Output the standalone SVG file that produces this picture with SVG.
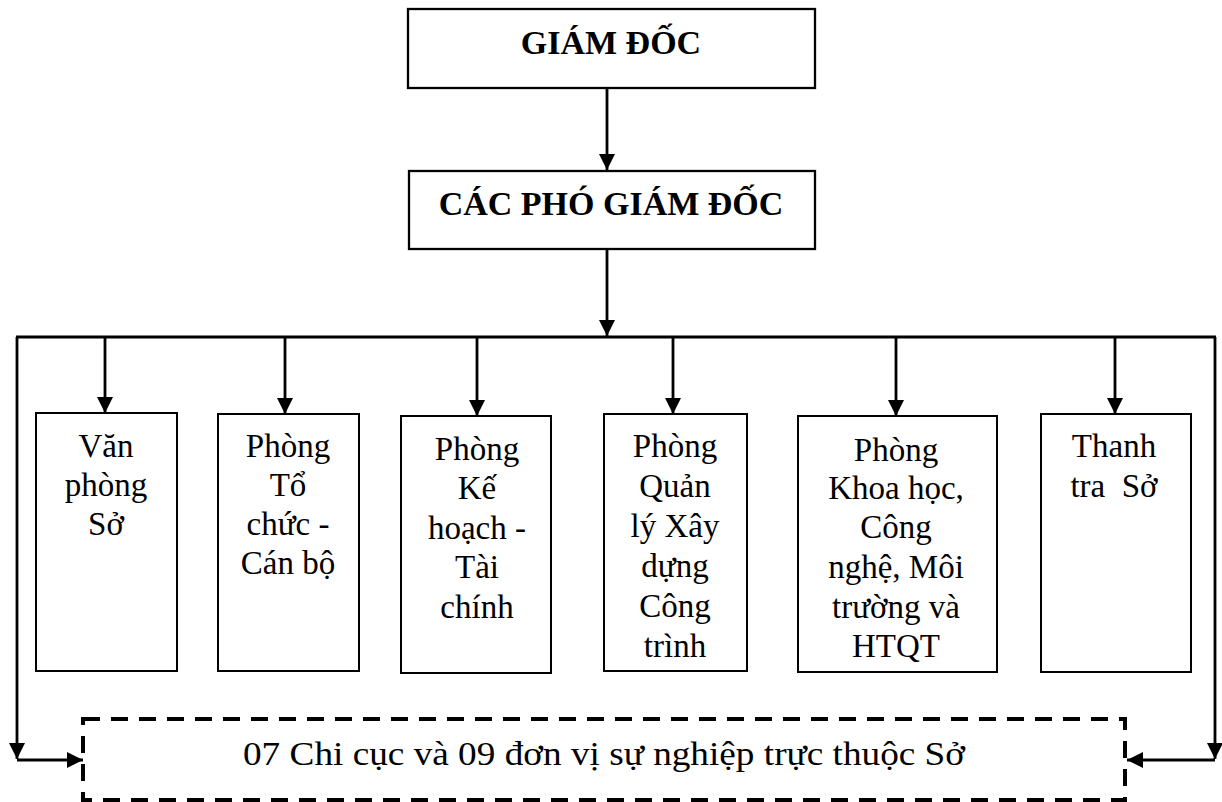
<svg xmlns="http://www.w3.org/2000/svg" width="1222" height="802" viewBox="0 0 1222 802">
<style>
.box{fill:#fff;stroke:#000;stroke-width:2}
.top{fill:#fff;stroke:#000;stroke-width:2.3}
.con{fill:none;stroke:#000;stroke-width:2.8}
.dash{fill:none;stroke:#000;stroke-width:4;stroke-dasharray:17 11}
text{font-family:'Liberation Serif','Times New Roman',serif;fill:#000;text-anchor:middle}
.t{font-size:33px;white-space:pre}
.b{font-size:34px;font-weight:bold}
</style>
<defs>
<marker id="ah" viewBox="0 0 16 16" refX="16" refY="8" markerWidth="16" markerHeight="16" markerUnits="userSpaceOnUse" orient="auto">
<path d="M0,0 L16,8 L0,16 Z" fill="#000"/>
</marker>
</defs>
<g id="connectors">
<line class="con" x1="607" y1="88" x2="607" y2="170" marker-end="url(#ah)"/>
<line class="con" x1="607" y1="249" x2="607" y2="336" marker-end="url(#ah)"/>
<line class="con" x1="16" y1="337" x2="1216" y2="337"/>
<line class="con" x1="105" y1="337" x2="105" y2="413" marker-end="url(#ah)"/>
<line class="con" x1="285" y1="337" x2="285" y2="414" marker-end="url(#ah)"/>
<line class="con" x1="477" y1="337" x2="477" y2="416" marker-end="url(#ah)"/>
<line class="con" x1="673" y1="337" x2="673" y2="414" marker-end="url(#ah)"/>
<line class="con" x1="896" y1="337" x2="896" y2="416" marker-end="url(#ah)"/>
<line class="con" x1="1115" y1="337" x2="1115" y2="414" marker-end="url(#ah)"/>
<line class="con" x1="17" y1="337" x2="17" y2="759" marker-end="url(#ah)"/>
<line class="con" x1="17" y1="760" x2="83" y2="760" marker-end="url(#ah)"/>
<line class="con" x1="1215" y1="337" x2="1215" y2="759" marker-end="url(#ah)"/>
<line class="con" x1="1215" y1="760" x2="1127" y2="760" marker-end="url(#ah)"/>
</g>
<g id="giam-doc">
<rect class="top" x="408" y="9" width="407" height="79"/>
<text class="b" x="611" y="54">GIÁM ĐỐC</text>
</g>
<g id="pho-giam-doc">
<rect class="top" x="409" y="171" width="406" height="78"/>
<text class="b" x="611" y="215">CÁC PHÓ GIÁM ĐỐC</text>
</g>
<g id="van-phong">
<rect class="box" x="36" y="413" width="141" height="258"/>
<text class="t" x="106" y="457">Văn</text>
<text class="t" x="106" y="496">phòng</text>
<text class="t" x="106" y="535">Sở</text>
</g>
<g id="to-chuc">
<rect class="box" x="218" y="414" width="141" height="257"/>
<text class="t" x="288" y="457">Phòng</text>
<text class="t" x="288" y="496">Tổ</text>
<text class="t" x="288" y="535">chức -</text>
<text class="t" x="288" y="574">Cán bộ</text>
</g>
<g id="ke-hoach">
<rect class="box" x="401" y="416" width="150" height="257"/>
<text class="t" x="477" y="460">Phòng</text>
<text class="t" x="477" y="499">Kế</text>
<text class="t" x="477" y="539">hoạch -</text>
<text class="t" x="477" y="578">Tài</text>
<text class="t" x="477" y="618">chính</text>
</g>
<g id="quan-ly">
<rect class="box" x="604" y="414" width="143" height="257"/>
<text class="t" x="675" y="457">Phòng</text>
<text class="t" x="675" y="497">Quản</text>
<text class="t" x="675" y="537">lý Xây</text>
<text class="t" x="675" y="577">dựng</text>
<text class="t" x="675" y="617">Công</text>
<text class="t" x="675" y="657">trình</text>
</g>
<g id="khoa-hoc">
<rect class="box" x="798" y="416" width="199" height="256"/>
<text class="t" x="896" y="461">Phòng</text>
<text class="t" x="896" y="499">Khoa học,</text>
<text class="t" x="896" y="538">Công</text>
<text class="t" x="896" y="578">nghệ, Môi</text>
<text class="t" x="896" y="618">trường và</text>
<text class="t" x="896" y="657">HTQT</text>
</g>
<g id="thanh-tra">
<rect class="box" x="1041" y="414" width="150" height="258"/>
<text class="t" x="1114" y="457">Thanh</text>
<text class="t" x="1114" y="497">tra  Sở</text>
</g>
<g id="chi-cuc">
<rect class="dash" x="83" y="719" width="1042" height="81"/>
<text class="t" x="604" y="765" font-size="35" textLength="722" lengthAdjust="spacingAndGlyphs">07 Chi cục và 09 đơn vị sự nghiệp trực thuộc Sở</text>
</g>
</svg>
